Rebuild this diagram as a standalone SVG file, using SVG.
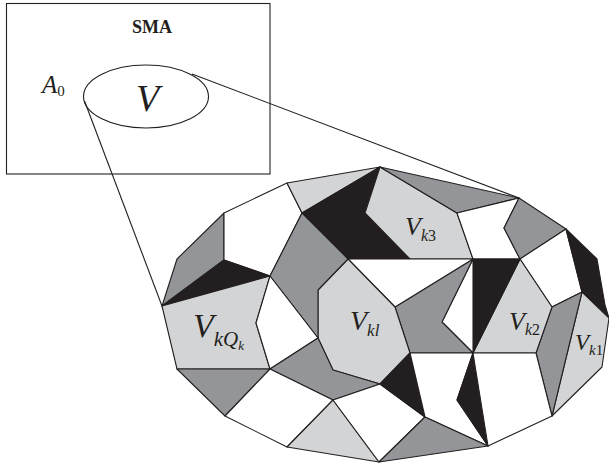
<svg xmlns="http://www.w3.org/2000/svg" width="609" height="466" viewBox="0 0 609 466">
<style>
  .c { stroke:#231f20; stroke-width:1.1; stroke-linejoin:round; }
  .lg { fill:#d3d4d6; }
  .dg { fill:#939598; }
  .bk { fill:#231f20; }
  .wh { fill:#ffffff; }
  .ln { stroke:#231f20; stroke-width:1.1; fill:none; }
  .t { font-family:"Liberation Serif","Times New Roman",serif; fill:#231f20; }
  .it { font-style:italic; }
  .up { font-style:normal; }
</style>
<rect width="609" height="466" fill="#ffffff"/>

<g id="sma-box">
  <rect x="6.5" y="3.5" width="263.5" height="170.5" class="ln"/>
  <text x="152" y="33" class="t" font-family="Liberation Serif, serif" font-size="18" font-weight="bold" text-anchor="middle">SMA</text>
  <text x="42" y="93" class="t it" font-family="Liberation Serif, serif" font-size="25">A<tspan class="up" font-size="15" dy="3">0</tspan></text>
</g>

<g id="region-V">
  <ellipse cx="146" cy="96.5" rx="62.5" ry="31.5" class="ln"/>
  <text x="136" y="111" class="t it" font-family="Liberation Serif, serif" font-size="38">V</text>
</g>

<g id="connectors">
  <line x1="84.5" y1="101" x2="162" y2="306" class="ln"/>
  <line x1="192" y1="74" x2="519" y2="198" class="ln"/>
</g>

<g id="mosaic" class="c">
  <polygon class="dg" points="177,259 224,213 224,260 162,306"/>
  <polygon class="wh" points="224,213 287,183 302,213 270,276 224,260"/>
  <polygon class="lg" points="287,183 380,167 302,213"/>
  <polygon class="bk" points="162,306 224,260 270,276"/>
  <polygon class="bk" points="302,213 380,167 365,213 410,259 348,259"/>
  <polygon class="lg" points="380,167 457,213 473,259 410,259 365,213"/>
  <polygon class="dg" points="380,167 519,198 457,213"/>
  <polygon class="wh" points="457,213 519,198 504,228 520,259 473,259"/>
  <polygon class="dg" points="519,198 566,229 520,259 504,228"/>
  <polygon class="wh" points="566,229 520,259 552,307 582,292"/>
  <polygon class="bk" points="566,229 597,259 605,305 609,318 582,292"/>
  <polygon class="lg" points="582,292 609,318 602,367 552,416"/>
  <polygon class="dg" points="552,307 582,292 552,416 536,353"/>
  <polygon class="lg" points="520,259 552,307 536,353 473,353"/>
  <polygon class="bk" points="473,259 520,259 473,353"/>
  <polygon class="wh" points="473,259 442,322 473,353"/>
  <polygon class="dg" points="395,307 473,259 442,322 473,353 410,353"/>
  <polygon class="wh" points="348,259 473,259 395,307"/>
  <polygon class="lg" points="348,259 395,307 410,353 380,384 333,370 318,338 318,290"/>
  <polygon class="dg" points="302,213 348,259 318,290 318,338 270,276"/>
  <polygon class="lg" points="162,306 270,276 256,323 270,369 177,369"/>
  <polygon class="wh" points="270,276 318,338 270,369 256,323"/>
  <polygon class="dg" points="270,369 318,338 333,370 380,384 333,400"/>
  <polygon class="dg" points="177,369 270,369 225,416"/>
  <polygon class="wh" points="225,416 270,369 333,400 287,447"/>
  <polygon class="lg" points="287,447 333,400 379,462"/>
  <polygon class="wh" points="333,400 380,384 425,417 379,462"/>
  <polygon class="bk" points="410,353 380,384 425,417"/>
  <polygon class="wh" points="410,353 473,353 457,400 488,446 425,417"/>
  <polygon class="bk" points="473,353 457,400 488,446"/>
  <polygon class="dg" points="425,417 488,446 379,462"/>
  <polygon class="wh" points="473,353 536,353 552,416 488,446"/>
</g>

<g id="labels" class="t it" font-family="Liberation Serif, serif">
  <text x="193" y="337" font-size="34">V<tspan font-size="21" dy="9">kQ</tspan><tspan font-size="13" dy="4">k</tspan></text>
  <text x="350" y="330" font-size="28">V<tspan font-size="17" dy="6">kl</tspan></text>
  <text x="405" y="235" font-size="26">V<tspan font-size="16" dy="6">k<tspan class="up">3</tspan></tspan></text>
  <text x="509" y="330" font-size="26">V<tspan font-size="16" dy="5">k<tspan class="up">2</tspan></tspan></text>
  <text x="575" y="350" font-size="23">V<tspan font-size="15" dy="5">k<tspan class="up">1</tspan></tspan></text>
</g>
</svg>
